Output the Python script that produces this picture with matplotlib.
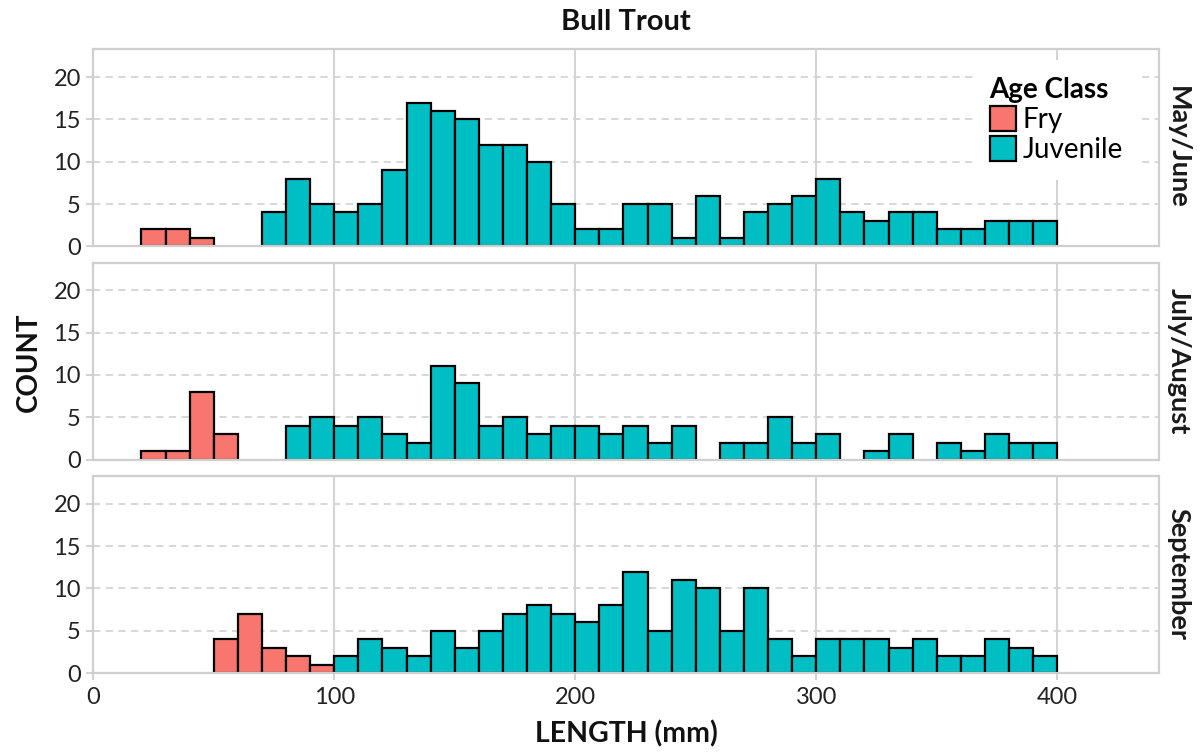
import numpy as np
import matplotlib
matplotlib.use("Agg")
import matplotlib.pyplot as plt
from matplotlib.patches import Patch

plt.rcParams["font.family"] = ["Lato", "DejaVu Sans"]

# 10 mm length bins (left edges)
bin_left = np.arange(20, 400, 10)

panels = ["May/June", "July/August", "September"]

fry_may_june = [2, 2, 1, 0, 0, 0, 0, 0, 0, 0, 0, 0, 0, 0, 0, 0, 0, 0, 0,
                0, 0, 0, 0, 0, 0, 0, 0, 0, 0, 0, 0, 0, 0, 0, 0, 0, 0, 0]
juv_may_june = [0, 0, 0, 0, 0, 4, 8, 5, 4, 5, 9, 17, 16, 15, 12, 12, 10, 5, 2,
                2, 5, 5, 1, 6, 1, 4, 5, 6, 8, 4, 3, 4, 4, 2, 2, 3, 3, 3]

fry_july_aug = [1, 1, 8, 3, 0, 0, 0, 0, 0, 0, 0, 0, 0, 0, 0, 0, 0, 0, 0,
                0, 0, 0, 0, 0, 0, 0, 0, 0, 0, 0, 0, 0, 0, 0, 0, 0, 0, 0]
juv_july_aug = [0, 0, 0, 0, 0, 0, 4, 5, 4, 5, 3, 2, 11, 9, 4, 5, 3, 4, 4,
                3, 4, 2, 4, 0, 2, 2, 5, 2, 3, 0, 1, 3, 0, 2, 1, 3, 2, 2]

fry_september = [0, 0, 0, 4, 7, 3, 2, 1, 0, 0, 0, 0, 0, 0, 0, 0, 0, 0, 0,
                 0, 0, 0, 0, 0, 0, 0, 0, 0, 0, 0, 0, 0, 0, 0, 0, 0, 0, 0]
juv_september = [0, 0, 0, 0, 0, 0, 0, 0, 2, 4, 3, 2, 5, 3, 5, 7, 8, 7, 6,
                 8, 12, 5, 11, 10, 5, 10, 4, 2, 4, 4, 4, 3, 4, 2, 2, 4, 3, 2]

fry_counts = [fry_may_june, fry_july_aug, fry_september]
juv_counts = [juv_may_june, juv_july_aug, juv_september]

x_ticks = [0, 100, 200, 300, 400]
y_ticks = [0, 5, 10, 15, 20]

FRY = "#F8766D"
JUV = "#00BFC4"
BORDER = "#cfcfcf"
GRID = "#d4d4d4"

W, H = 1200, 754
fig = plt.figure(figsize=(W / 100, H / 100), dpi=100)

left_px, right_px = 93.3, 1158.5
tops_px = [49.3, 262.5, 476.0]
panel_h_px = 197.0

axes = []
for i, name in enumerate(panels):
    top = tops_px[i]
    ax = fig.add_axes([left_px / W, 1 - (top + panel_h_px) / H,
                       (right_px - left_px) / W, panel_h_px / H])
    axes.append(ax)

    fry = np.array(fry_counts[i], dtype=float)
    juv = np.array(juv_counts[i], dtype=float)
    m = fry > 0
    ax.bar(bin_left[m], fry[m], width=10, align="edge", color=FRY,
           edgecolor="black", linewidth=1.6, zorder=3)
    m = juv > 0
    ax.bar(bin_left[m], juv[m], width=10, bottom=fry[m], align="edge",
           color=JUV, edgecolor="black", linewidth=1.6, zorder=3)

    ax.set_xlim(0, 442)
    ax.set_ylim(0, 23.3)
    ax.set_xticks(x_ticks)
    ax.set_yticks(y_ticks)
    ax.set_yticklabels([str(v) for v in y_ticks])

    for xv in x_ticks[1:]:
        ax.axvline(xv, color=GRID, linewidth=1.5, zorder=1)
    for yv in y_ticks[1:]:
        ax.axhline(yv, color=GRID, linewidth=1.3, linestyle=(0, (4, 3)), zorder=1)

    for s in ax.spines.values():
        s.set_color(BORDER)
        s.set_linewidth(1.6)
        s.set_zorder(4)

    ax.tick_params(axis="both", colors=BORDER, length=5, width=1.3,
                   labelcolor="#222222", labelsize=17, pad=4)
    if i < 2:
        ax.tick_params(axis="x", labelbottom=False, length=0)

    ax.text(1.0185, 0.5, name, transform=ax.transAxes, rotation=270,
            ha="center", va="center", fontsize=19.5, fontweight="bold",
            color="#1a1a1a")

axes[2].tick_params(axis="x", pad=5)

leg = axes[0].legend(
    handles=[Patch(facecolor=FRY, edgecolor="black", linewidth=1.6, label="Fry"),
             Patch(facecolor=JUV, edgecolor="black", linewidth=1.6, label="Juvenile")],
    title="Age Class", loc="upper right", bbox_to_anchor=(0.9826, 0.945),
    borderaxespad=0.0,
    fontsize=20, title_fontproperties={"weight": "bold", "size": 20},
    frameon=True, fancybox=False, framealpha=1, facecolor="white",
    edgecolor="none", handlelength=0.95, handleheight=1.0,
    handletextpad=0.25, labelspacing=0.12, borderpad=0.6, alignment="left")
leg.set_zorder(5)

fig.text((left_px + right_px) / 2 / W, 1 - 22 / H, "Bull Trout", ha="center",
         va="center", fontsize=21, fontweight="bold", color="#111111")
fig.text(29 / W, 1 - 362 / H, "COUNT", rotation=90, ha="center", va="center",
         fontsize=20, fontweight="bold", color="#111111")
fig.text((left_px + right_px) / 2 / W, 1 - 734 / H, "LENGTH (mm)", ha="center",
         va="center", fontsize=20.5, fontweight="bold", color="#111111")

fig.savefig("out.png", dpi=100, facecolor="white")
